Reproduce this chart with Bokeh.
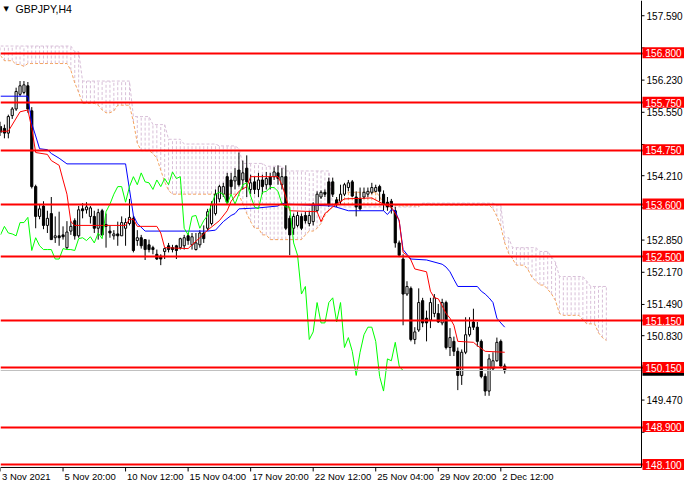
from bokeh.plotting import figure
from bokeh.models import Range1d, Label
from bokeh.core.properties import value
from bokeh.embed import file_html
from bokeh.resources import INLINE

# GBPJPY H4 candles, 3 Nov - 2 Dec 2021
open_ = [155.25, 155.21, 155.11, 155.48, 155.62, 155.93, 155.97, 156.11, 155.58, 153.98,
         153.35, 153.57, 153.16, 153.41, 152.90, 152.94, 152.96, 152.69, 153.04, 153.26,
         152.94, 153.51, 153.49, 153.35, 153.35, 153.10, 153.47, 153.18, 153.04, 152.94,
         152.98, 152.94, 153.10, 153.20, 153.31, 152.84, 152.90, 152.86, 152.75, 152.69,
         152.55, 152.51, 152.61, 152.73, 152.69, 152.73, 152.69, 152.73, 152.94, 152.75,
         152.65, 152.75, 153.00, 153.10, 153.20, 153.41, 153.72, 153.82, 154.19, 154.12,
         154.10, 154.33, 154.12, 154.37, 153.92, 154.08, 153.92, 154.12, 154.02, 154.19,
         154.19, 154.27, 154.02, 154.19, 153.31, 153.10, 153.16, 153.35, 153.37, 153.20,
         153.24, 153.47, 153.76, 153.86, 154.08, 154.08, 153.70, 153.67, 153.82, 153.96,
         154.08, 153.76, 153.72, 153.76, 153.82, 153.86, 153.88, 153.98, 153.82, 153.65,
         153.67, 153.47, 152.79, 152.45, 151.71, 151.83, 150.75, 150.95, 151.57, 151.20,
         151.16, 151.30, 151.30, 151.10, 151.53, 150.58, 150.71, 150.50, 149.99, 150.48,
         150.85, 151.12, 151.01, 150.71, 149.97, 149.66, 150.13, 150.30, 150.71, 150.19]
high = [155.35, 155.29, 155.50, 155.66, 156.07, 156.21, 156.21, 156.19, 155.66, 154.02,
        153.59, 153.67, 153.47, 153.76, 153.35, 153.45, 153.14, 153.25, 153.25, 153.31,
        153.57, 153.63, 153.65, 153.57, 153.47, 153.51, 153.51, 153.41, 153.16, 153.06,
        153.24, 153.35, 153.31, 153.72, 153.37, 153.06, 152.96, 152.86, 152.86, 152.73,
        152.65, 152.55, 152.69, 152.79, 152.75, 152.75, 152.90, 152.96, 153.00, 153.00,
        153.00, 153.06, 153.16, 153.51, 153.67, 153.92, 154.02, 154.06, 154.27, 154.27,
        154.37, 154.70, 154.53, 154.64, 154.23, 154.19, 154.27, 154.23, 154.29, 154.27,
        154.39, 154.43, 154.37, 154.43, 153.37, 153.41, 153.45, 153.41, 153.45, 153.47,
        153.65, 153.88, 153.90, 153.92, 154.17, 154.17, 153.76, 154.02, 154.06, 154.12,
        154.12, 153.88, 153.96, 153.96, 153.96, 154.06, 154.02, 154.02, 153.90, 153.76,
        153.72, 153.55, 152.84, 152.55, 151.98, 151.87, 151.01, 151.83, 151.63, 151.36,
        151.63, 151.71, 151.50, 151.61, 151.57, 150.99, 150.81, 150.58, 150.54, 151.22,
        151.22, 151.40, 151.12, 150.75, 150.03, 150.44, 150.48, 150.79, 150.75, 150.24]
low = [155.05, 155.00, 155.00, 155.41, 155.58, 155.89, 155.93, 155.54, 153.94, 153.10,
       153.29, 153.08, 153.00, 152.86, 152.79, 152.73, 152.86, 152.65, 152.96, 152.86,
       152.90, 153.31, 153.41, 153.20, 153.00, 152.86, 152.94, 152.69, 152.90, 152.86,
       152.73, 152.94, 152.73, 153.16, 152.59, 152.73, 152.67, 152.43, 152.59, 152.55,
       152.43, 152.32, 152.45, 152.59, 152.59, 152.45, 152.65, 152.65, 152.75, 152.65,
       152.63, 152.69, 152.79, 153.04, 153.16, 153.37, 153.65, 153.76, 153.61, 153.82,
       153.92, 153.98, 153.92, 153.76, 153.82, 153.82, 153.76, 153.82, 153.92, 153.92,
       154.12, 154.02, 153.92, 153.06, 152.53, 152.96, 153.12, 153.06, 153.20, 153.14,
       153.16, 153.45, 153.72, 153.76, 153.55, 153.76, 153.55, 153.61, 153.78, 153.88,
       153.76, 153.35, 153.47, 153.72, 153.76, 153.82, 153.86, 153.67, 153.47, 153.47,
       153.41, 152.69, 152.49, 151.05, 151.67, 150.71, 150.65, 150.91, 151.01, 150.71,
       150.99, 151.22, 151.10, 151.05, 150.54, 150.40, 150.40, 149.68, 149.79, 150.44,
       150.81, 150.95, 150.60, 149.93, 149.56, 149.56, 150.09, 150.28, 150.17, 150.03]
close = [155.13, 155.11, 155.46, 155.62, 155.99, 156.11, 156.13, 155.62, 153.98, 153.35,
         153.51, 153.16, 153.31, 152.86, 152.94, 152.90, 152.92, 153.02, 153.14, 152.94,
         153.49, 153.47, 153.55, 153.53, 153.10, 153.43, 152.96, 153.14, 153.00, 152.98,
         152.94, 153.22, 153.22, 153.33, 152.63, 152.90, 152.73, 152.65, 152.65, 152.65,
         152.45, 152.45, 152.67, 152.65, 152.65, 152.63, 152.88, 152.90, 152.84, 152.92,
         152.79, 153.00, 152.88, 153.45, 153.61, 153.82, 153.98, 153.98, 153.65, 153.98,
         154.19, 154.02, 154.27, 154.08, 154.06, 153.92, 154.12, 153.98, 154.15, 154.02,
         154.29, 154.15, 154.19, 153.10, 152.96, 153.35, 153.37, 153.10, 153.26, 153.37,
         153.61, 153.82, 153.86, 153.82, 153.61, 153.82, 153.61, 153.82, 154.02, 154.06,
         153.78, 153.55, 153.51, 153.86, 153.88, 153.96, 153.96, 153.88, 153.61, 153.55,
         153.55, 152.79, 152.53, 151.71, 151.87, 150.75, 150.91, 151.53, 151.10, 151.10,
         151.53, 151.63, 151.12, 151.53, 150.58, 150.79, 150.50, 149.99, 150.48, 150.85,
         151.01, 151.01, 150.71, 149.97, 149.66, 150.34, 150.30, 150.69, 150.19, 150.09]

# Ichimoku: tenkan-sen / kijun-sen vertices (bar index, price)
tenkan_x = [0, 2, 5, 7, 8, 9, 12, 13, 15, 16, 17, 18, 19, 32, 33, 34, 35, 40, 41, 42,
            48, 49, 51, 53, 56, 58, 59, 61, 63, 64, 71, 72, 73, 74, 81, 82, 83, 85, 86, 88,
            95, 98, 100, 102, 103, 104, 105, 106, 109, 110, 111, 112, 113, 114, 115, 116, 117, 121, 122, 124,
            129]
tenkan_y = [155.15, 155.15, 155.56, 155.60, 155.21, 154.70, 154.66, 154.53, 154.43, 154.12,
            153.82, 153.24, 153.16, 153.16, 153.29, 153.29, 153.14, 153.14, 153.00, 152.69,
            152.67, 152.75, 152.90, 153.06, 153.26, 153.47, 153.67, 153.88, 153.98, 154.19,
            154.19, 154.02, 153.76, 153.47, 153.45, 153.24, 153.41, 153.55, 153.61, 153.72,
            153.74, 153.61, 153.55, 153.27, 152.59, 152.53, 152.43, 152.24, 152.18, 151.77,
            151.63, 151.61, 151.46, 151.30, 151.20, 151.05, 150.71, 150.69, 150.62, 150.50,
            150.48]
kijun_x = [0, 7, 8, 9, 10, 12, 13, 15, 17, 32, 33, 34, 35, 37, 53, 55, 57, 59, 60, 61,
           66, 71, 72, 73, 85, 89, 98, 99, 100, 101, 102, 103, 104, 105, 109, 113, 114, 115, 116, 117,
           122, 123, 124, 125, 126, 127, 128, 129]
kijun_y = [155.89, 155.89, 155.31, 155.05, 154.78, 154.76, 154.68, 154.58, 154.46, 154.46,
           153.92, 153.37, 153.20, 153.04, 153.04, 153.06, 153.24, 153.37, 153.41, 153.51,
           153.53, 153.57, 153.63, 153.61, 153.57, 153.47, 153.47, 153.39, 153.49, 153.47,
           153.25, 152.65, 152.55, 152.45, 152.43, 152.34, 152.28, 152.18, 152.02, 151.87,
           151.87, 151.77, 151.71, 151.63, 151.53, 151.20, 151.10, 151.01]

# senkou spans per bar (cloud runs 26 bars past the last candle)
span_a = ([156.75] + [156.64] * 3 + [156.56] * 2 + [156.52] + [156.58] * 11 + [156.44] + [156.17] + [155.97]
          + [155.74] * 4 + [155.70] + [155.60] + [155.54] * 2 + [155.58] + [155.70] * 4 + [155.35] + [154.90]
          + [154.74] * 3 + [154.68] + [154.58] + [154.33] + [154.08] + [153.90] + [153.82] * 18 + [153.61]
          + [153.41] + [153.24] + [153.10] * 2 + [152.96] * 2 + [152.86] * 9 + [152.96] + [153.04] * 2 + [153.10]
          + [153.20] + [153.37] + [153.47] + [153.57] + [153.67] + [153.76] + [153.86] * 9 + [153.78]
          + [153.59] * 28 + [153.51] + [153.35] + [153.14] + [152.79] + [152.57] + [152.45] + [152.32] * 3
          + [152.22] + [152.06] + [151.98] + [151.90] * 2 + [151.81] + [151.71] + [151.57] + [151.30]
          + [151.26] * 5 + [151.16] + [151.08] * 3 + [150.89] + [150.79] + [150.73])
span_b = ([156.95] * 19 + [156.83] * 2 + [156.21] * 13 + [155.46] * 5 + [155.29] * 4
          + [154.98] * 4 + [154.88] * 9 + [154.84] * 5 + [154.78] + [154.47] * 6 + [154.41] * 5
          + [154.31] * 12 + [153.55] * 23 + [153.63] * 19 + [153.59] * 2 + [152.90] * 2
          + [152.69] * 7 + [152.61] * 3 + [152.49] + [152.38] + [152.08] * 7 + [151.98] + [151.87] * 5)

levels = [156.80, 155.75, 154.75, 153.60, 152.50, 151.15, 150.15, 148.90, 148.10]

price_ticks = [157.59, 156.91, 156.23, 155.55, 154.87, 154.21, 153.53, 152.85,
               152.17, 151.49, 150.83, 150.15, 149.47, 148.79]
hidden_ticks = [156.91, 154.87, 153.53, 150.15, 148.79]   # covered by the red level tags

time_ticks = [0, 16, 32, 48, 64, 80, 96, 112, 128]
time_labels = ["3 Nov 2021", "5 Nov 20:00", "10 Nov 12:00", "15 Nov 04:00", "17 Nov 20:00",
               "22 Nov 12:00", "25 Nov 04:00", "29 Nov 20:00", "2 Dec 12:00"]

CHIKOU_SHIFT = 26
FONT = "Liberation Sans"
W, H = 684, 484

# the frame fills the canvas; price scale and time scale are drawn inside it
AXIS_X = 164                     # bar position of the price scale line
x_lo, x_hi = 0, 175.0
y_hi, y_base, y_lo = 157.912, 148.046, 147.686
PX = x_hi / W                    # bars per pixel
PY = (y_hi - y_lo) / H           # price per pixel

bars = list(range(len(close)))
body_top = [max(o, c) for o, c in zip(open_, close)]
body_bot = [min(o, c) for o, c in zip(open_, close)]
body_fill = ["white" if c >= o else "black" for o, c in zip(open_, close)]

cloud_bars = list(range(len(span_a)))
cloud_color = ["#D8BFD8" if b >= a else "#F4A460" for a, b in zip(span_a, span_b)]

p = figure(width=W, height=H, output_backend="svg", toolbar_location=None,
           x_range=Range1d(x_lo, x_hi), y_range=Range1d(y_lo, y_hi),
           x_axis_location=None, y_axis_location=None, min_border=0)
p.outline_line_color = None
p.grid.visible = False
p.background_fill_color = "white"
p.border_fill_color = "white"

# kumo (cloud) as dotted per-bar columns
p.segment(x0=cloud_bars, y0=span_a, x1=cloud_bars, y1=span_b,
          line_color=cloud_color, line_dash="3 2", line_width=1)
p.line(cloud_bars, span_a, line_color="#F4A460", line_dash="3 2", line_width=1)
p.line(cloud_bars, span_b, line_color="#D8BFD8", line_dash="3 2", line_width=1)

# candles
p.segment(x0=bars, y0=high, x1=bars, y1=low, line_color="black", line_width=1)
p.vbar(x=bars, width=0.55, top=body_top, bottom=body_bot,
       fill_color=body_fill, line_color="black", line_width=1)

# tenkan, kijun, chikou
p.line(kijun_x, kijun_y, line_color="#0000FF", line_width=1)
p.line(tenkan_x, tenkan_y, line_color="#FF0000", line_width=1)
p.line(bars[:-CHIKOU_SHIFT], close[CHIKOU_SHIFT:], line_color="#00FF00", line_width=1)

# bid line and the horizontal levels
p.hspan(y=[close[-1]], line_color="#C0C0C0", line_width=1)
p.hspan(y=levels, line_color="#FF0000", line_width=2)

# scale lines
p.segment(x0=[AXIS_X, x_lo], y0=[y_base, y_base], x1=[AXIS_X, AXIS_X], y1=[y_hi, y_base],
          line_color="black", line_width=1)

# price scale ticks and labels
p.segment(x0=[AXIS_X] * len(price_ticks), y0=price_ticks,
          x1=[AXIS_X + 3 * PX] * len(price_ticks), y1=price_ticks, line_color="black")
shown = [t for t in price_ticks if t not in hidden_ticks]
p.text(x=[AXIS_X + 5 * PX] * len(shown), y=shown, text=["%.3f" % t for t in shown],
       text_align="left", text_baseline="middle", text_color="black",
       text_font=value(FONT), text_font_size="10px")

# time scale ticks and labels (label starts just right of its tick)
p.segment(x0=time_ticks, y0=[y_base] * len(time_ticks),
          x1=time_ticks, y1=[y_base - 4 * PY] * len(time_ticks), line_color="black")
p.text(x=[t + 1.5 * PX for t in time_ticks], y=[y_base - 4 * PY] * len(time_ticks), text=time_labels,
       text_align="left", text_baseline="top", text_color="black",
       text_font=value(FONT), text_font_size="9.5px")

# current price tag (mostly hidden under the 150.150 tag, as in the terminal)
p.quad(left=[AXIS_X + PX], right=[x_hi], top=[close[-1] + 6 * PY], bottom=[close[-1] - 5 * PY],
       fill_color="black", line_color=None)

# level tags on the price scale
p.quad(left=[AXIS_X + PX] * len(levels), right=[x_hi] * len(levels),
       top=[v + 6 * PY for v in levels], bottom=[v - 5 * PY for v in levels],
       fill_color="#FF0000", line_color=None)
p.text(x=[AXIS_X + 4 * PX] * len(levels), y=levels, text=["%.3f" % v for v in levels],
       text_align="left", text_baseline="middle", text_color="white",
       text_font=value(FONT), text_font_size="10px")

# symbol caption
p.add_layout(Label(x=x_lo, y=y_hi, text="\u25bc", x_offset=3, y_offset=-4,
                   text_align="left", text_baseline="top",
                   text_font="DejaVu Sans", text_font_size="7px", text_color="black"))
p.add_layout(Label(x=x_lo, y=y_hi, text="GBPJPY,H4", x_offset=15, y_offset=-2,
                   text_align="left", text_baseline="top",
                   text_font=FONT, text_font_size="10.5px", text_color="black"))

open("out.html", "w").write(file_html(p, INLINE))
